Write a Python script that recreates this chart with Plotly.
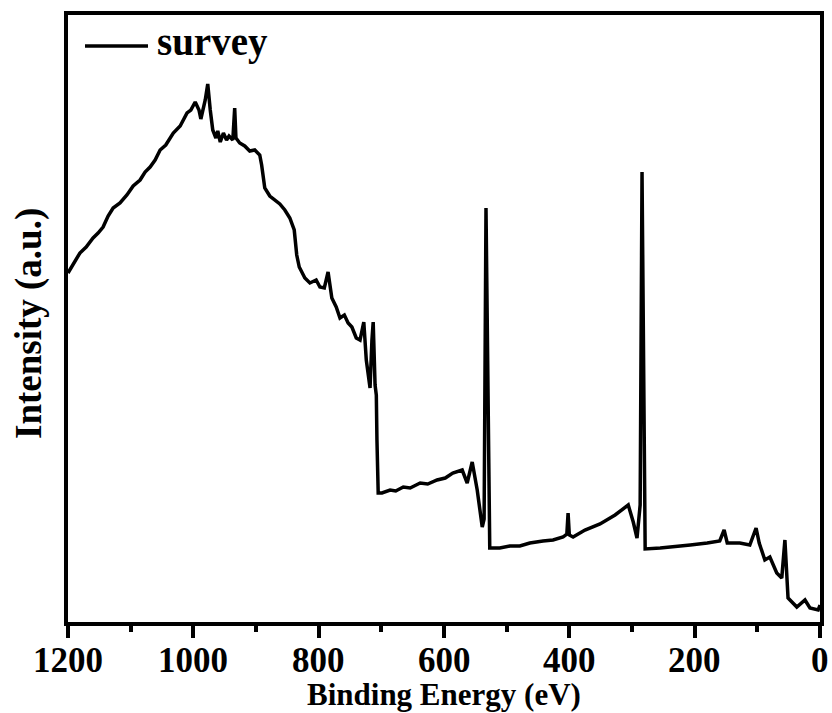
import plotly.graph_objects as go

# Binding energy (eV) and intensity (a.u.)
energy = [1200, 1190, 1181, 1171, 1160, 1152, 1144, 1136, 1128, 1117, 1106, 1096, 1085,
          1077, 1069, 1061, 1053, 1044, 1032, 1021, 1010, 1004,
          997, 991, 988, 981, 977, 973, 969, 964, 961, 957, 952, 947, 943, 937, 934, 932,
          926, 918, 910, 902, 894, 891, 886, 878, 870, 862, 854, 846, 839, 835, 831, 822,
          814, 804, 798, 791, 785, 779, 772, 766, 759, 753, 747, 740, 734, 728, 724, 721,
          718, 715, 713, 710, 708, 707, 705, 699, 686, 677, 665, 654, 638, 626, 611, 598,
          586, 571, 563, 555, 547, 539, 536, 533, 529, 527,
          511, 495, 479, 463, 442, 426, 410, 404, 402, 400, 394, 375, 351, 327, 306, 298,
          292, 287, 284, 281, 279, 255, 235, 207, 180, 160, 153, 148, 128, 112, 102, 97,
          88, 80, 69, 61, 56, 51, 37, 24, 16, 3, 0]
intensity = [349, 360, 369, 375, 384, 389, 395, 406, 414, 419, 427, 436, 442,
             450, 455, 462, 472, 477, 489, 496, 509, 512,
             520, 512, 503, 522, 538, 512, 492, 484, 491, 480, 489, 482, 486, 482, 514, 484,
             479, 476, 471, 472, 467, 457, 434, 426, 422, 418, 412, 404, 392, 367, 355, 344,
             339, 342, 335, 334, 350, 324, 315, 304, 307, 299, 295, 284, 282, 300, 262, 247,
             234, 282, 300, 237, 227, 182, 129, 129, 132, 131, 135, 134, 139, 138, 142, 144,
             149, 152, 139, 160, 132, 95, 103, 414, 222, 74,
             74, 76, 76, 79, 81, 82, 85, 88, 109, 87, 85, 92, 98, 107, 117, 100,
             84, 117, 450, 232, 73, 74, 75, 77, 79, 81, 92, 79, 79, 77, 94, 79,
             62, 65, 49, 44, 82, 24, 15, 22, 14, 12, 17]

x_ticks = [1200, 1000, 800, 600, 400, 200, 0]
series_name = "survey"
x_title = "Binding Energy (eV)"
y_title = "Intensity (a.u.)"

FONT = "Liberation Serif"
W, H = 832, 713
ML, MR, MT, MB = 68, 12, 15, 91
PW, PH = W - ML - MR, H - MT - MB


def px_x(p):
    return (p - ML) / PW


def px_y(p):
    return (H - MB - p) / PH


fig = go.Figure()
fig.add_trace(go.Scatter(
    x=energy, y=intensity, mode="lines", name=series_name,
    line=dict(color="black", width=3.5), showlegend=False,
))

annotations = [
    dict(text=str(v), xref="x", yref="paper", x=v, y=px_y(660),
         xanchor="center", yanchor="middle", showarrow=False,
         font=dict(family=FONT, size=35, weight="bold"))
    for v in x_ticks
]
annotations += [
    dict(text=series_name, xref="paper", yref="paper", x=px_x(155), y=px_y(42),
         xanchor="left", yanchor="middle", showarrow=False,
         font=dict(family=FONT, size=39, weight="bold")),
    dict(text=x_title, xref="paper", yref="paper", x=0.5, y=px_y(694),
         xanchor="center", yanchor="middle", showarrow=False,
         font=dict(family=FONT, size=31, weight="bold")),
    dict(text=y_title, xref="paper", yref="paper", x=px_x(29), y=px_y(324),
         xanchor="center", yanchor="middle", showarrow=False, textangle=-90,
         font=dict(family=FONT, size=37, weight="bold")),
]

fig.update_layout(
    width=W, height=H,
    margin=dict(l=ML, r=MR, t=MT, b=MB, autoexpand=False),
    paper_bgcolor="white", plot_bgcolor="white",
    font=dict(family=FONT, color="black", weight="bold"),
    showlegend=False,
    xaxis=dict(
        range=[1200, 0], autorange=False, automargin=False,
        tickmode="array", tickvals=x_ticks, showticklabels=False,
        ticks="outside", ticklen=12, tickwidth=4, tickcolor="black",
        minor=dict(dtick=100, tick0=0, ticks="outside", ticklen=6, tickwidth=4, tickcolor="black"),
        showline=True, linewidth=4, linecolor="black", mirror=True,
        showgrid=False, zeroline=False,
    ),
    yaxis=dict(
        range=[0, 607], autorange=False, automargin=False,
        showticklabels=False, ticks="",
        showline=True, linewidth=4, linecolor="black", mirror=True,
        showgrid=False, zeroline=False,
    ),
    shapes=[
        dict(type="line", xref="paper", yref="paper",
             x0=px_x(85), x1=px_x(148), y0=px_y(46), y1=px_y(46),
             line=dict(color="black", width=3.5)),
    ],
    annotations=annotations,
)

fig.write_html("out.html")
